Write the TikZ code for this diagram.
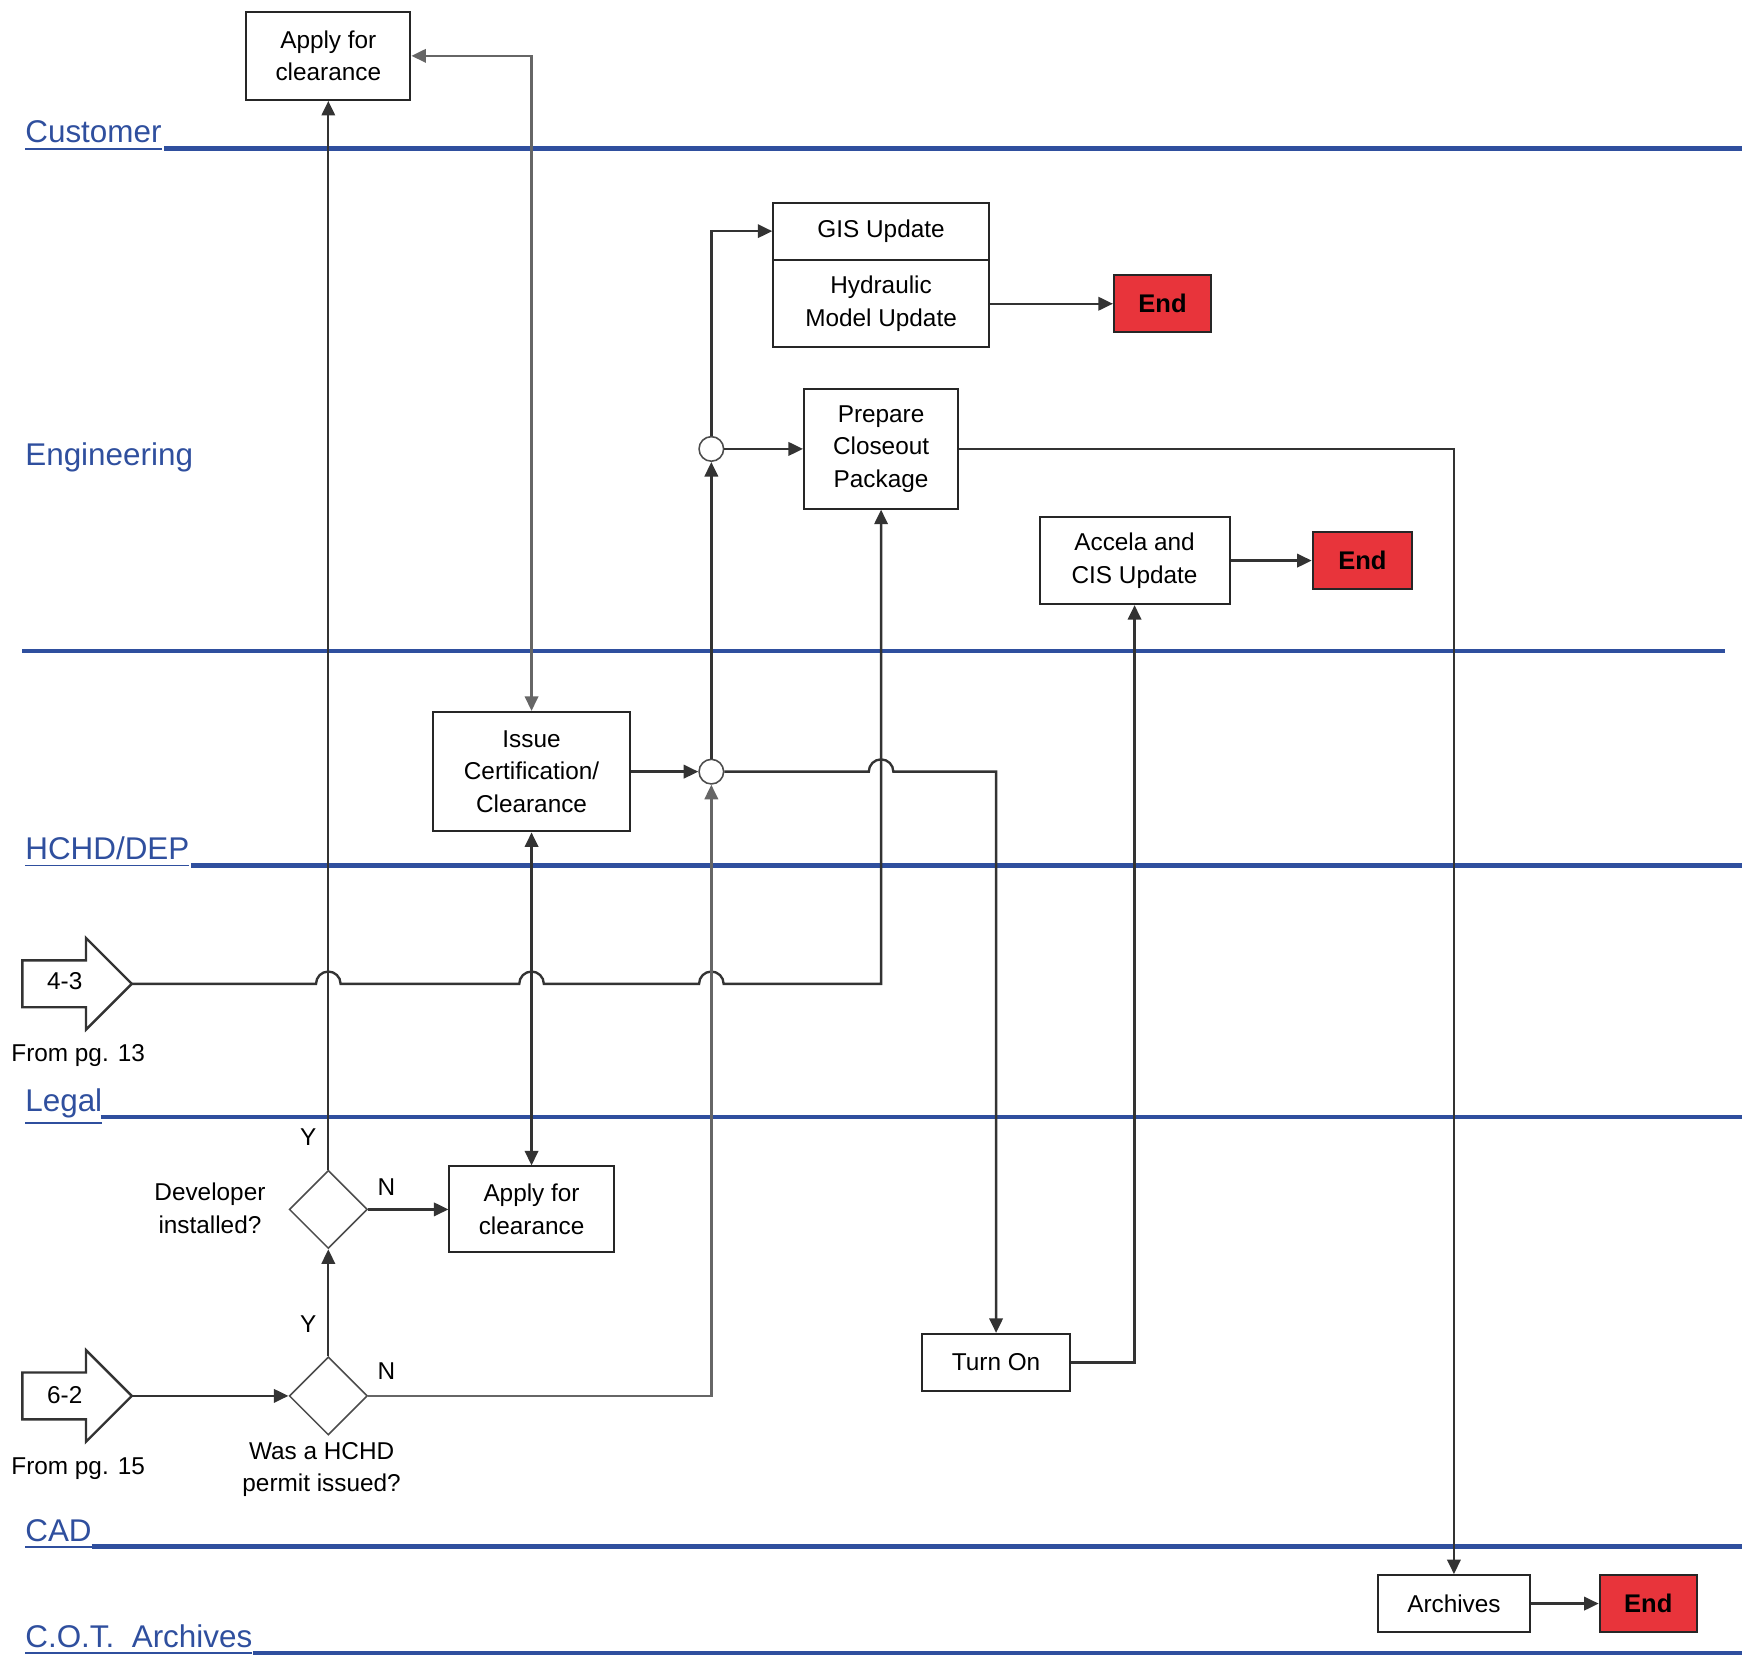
\documentclass[tikz,border=0pt]{standalone}
\usepackage{fontspec}
\setmainfont{Liberation Sans}
\usetikzlibrary{arrows.meta,shapes.geometric}
\definecolor{laneblue}{HTML}{2F4F9E}
\definecolor{endred}{HTML}{E8343B}
\tikzset{
  box/.style={draw=black!85,line width=0.5pt,fill=white,align=center,inner sep=1pt,font=\fontsize{6.2}{8.3}\selectfont},
  endbox/.style={box,fill=endred,font=\fontsize{6.5}{8}\selectfont\bfseries},
  dec/.style={draw=black!70,diamond,fill=white,minimum width=0.7cm,minimum height=0.7cm,inner sep=0pt},
  junc/.style={draw=black!70,circle,fill=white,minimum size=0.22cm,inner sep=0pt},
  flow/.style={draw=black!80,line width=0.6pt,-{Triangle[length=1.3mm,width=1.2mm]}},
  both/.style={flow,{Triangle[length=1.3mm,width=1.2mm]}-{Triangle[length=1.3mm,width=1.2mm]}},
  lane/.style={draw=laneblue,line width=1.1pt},
  lanelabel/.style={text=laneblue,anchor=base west,inner sep=0pt,font=\fontsize{8}{9}\selectfont},
  lbl/.style={font=\fontsize{6.2}{8.3}\selectfont,align=center,inner sep=0pt},
}
\begin{document}
\begin{tikzpicture}[x=0.01cm,y=-0.01cm]
\useasboundingbox (0,0) rectangle (1568,1487);

% lanes
\foreach \y/\x/\t in {133/147/Customer,775/171/{HCHD/DEP},1000/90/Legal,1385/82/CAD,1480/227/C.O.T.\ \ Archives}{
  \node[lanelabel] at (22,\y-5) {\underline{\t}};
  \draw[lane] (\x,\y) -- (1560,\y);
}
\node[lanelabel] at (22,417) {Engineering};
\draw[lane] (20,583) -- (1545,583);

% nodes
\node[box,minimum width=1.47cm,minimum height=0.79cm] (apply1) at (294,50) {Apply for\\clearance};
\node[box,minimum width=1.93cm,minimum height=0.51cm] (gis) at (789,207) {GIS Update};
\node[box,minimum width=1.93cm,minimum height=0.78cm] (hyd) at (789,272) {Hydraulic\\Model Update};
\node[endbox,minimum width=0.87cm,minimum height=0.51cm] (end1) at (1041,272) {End};
\node[box,minimum width=1.38cm,minimum height=1.07cm] (prep) at (789,402) {Prepare\\Closeout\\Package};
\node[box,minimum width=1.70cm,minimum height=0.78cm] (accela) at (1016,502) {Accela and\\CIS Update};
\node[endbox,minimum width=0.89cm,minimum height=0.51cm] (end2) at (1220,502) {End};
\node[junc] (c1) at (637,402) {};
\node[box,minimum width=1.76cm,minimum height=1.07cm] (issue) at (476,691) {Issue\\Certification/\\Clearance};
\node[junc] (c2) at (637,691) {};
\node[dec] (d1) at (294,1083) {};
\node[box,minimum width=1.47cm,minimum height=0.77cm] (apply2) at (476,1083) {Apply for\\clearance};
\node[box,minimum width=1.32cm,minimum height=0.51cm] (turnon) at (892,1220) {Turn On};
\node[dec] (d2) at (294,1250) {};
\node[box,minimum width=1.36cm,minimum height=0.51cm] (archives) at (1302,1436) {Archives};
\node[endbox,minimum width=0.87cm,minimum height=0.51cm] (end3) at (1476,1436) {End};

% off-page connectors
\draw[black!80,line width=0.6pt,fill=white] (20,860) -- (77,860) -- (77,840) -- (118,881) -- (77,922) -- (77,902) -- (20,902) -- cycle;
\coordinate (p43) at (118,881);
\node[lbl] at (58,879) {4-3};
\node[lbl] at (70,945) {From pg. 13};
\draw[black!80,line width=0.6pt,fill=white] (20,1229) -- (77,1229) -- (77,1209) -- (118,1250) -- (77,1291) -- (77,1271) -- (20,1271) -- cycle;
\coordinate (p62) at (118,1250);
\node[lbl] at (58,1249) {6-2};
\node[lbl] at (70,1315) {From pg. 15};

% labels
\node[lbl] at (188,1082) {Developer\\installed?};
\node[lbl] at (288,1316) {Was a HCHD\\permit issued?};
\node[lbl] at (276,1018) {Y};
\node[lbl] at (346,1063) {N};
\node[lbl] at (276,1186) {Y};
\node[lbl] at (346,1228) {N};

% connectors
\draw[flow] (d1.north) -- (apply1.south);
\draw[both,draw=black!60] (apply1.east) -| (issue.north);
\draw[both] (issue.south) -- (apply2.north);
\draw[flow] (issue.east) -- (c2.west);
\draw[flow] (c2.north) -- (c1.south);
\draw[flow] (c1.north) |- (gis.west);
\draw[flow] (c1.east) -- (prep.west);
\draw[flow] (c2.east) -- (778,691) arc (180:360:11) -- (892,691) -- (turnon.north);
\draw[flow] (p43) -- (283,881) arc (180:360:11) -- (465,881) arc (180:360:11) -- (626,881) arc (180:360:11) -- (789,881) -- (prep.south);
\draw[flow] (hyd.east) -- (end1.west);
\draw[flow] (accela.east) -- (end2.west);
\draw[flow] (prep.east) -| (archives.north);
\draw[flow] (turnon.east) -| (accela.south);
\draw[flow] (archives.east) -- (end3.west);
\draw[flow] (p62) -- (d2.west);
\draw[flow] (d2.north) -- (d1.south);
\draw[flow,draw=black!60] (d2.east) -| (c2.south);
\draw[flow] (d1.east) -- (apply2.west);
\end{tikzpicture}
\end{document}
